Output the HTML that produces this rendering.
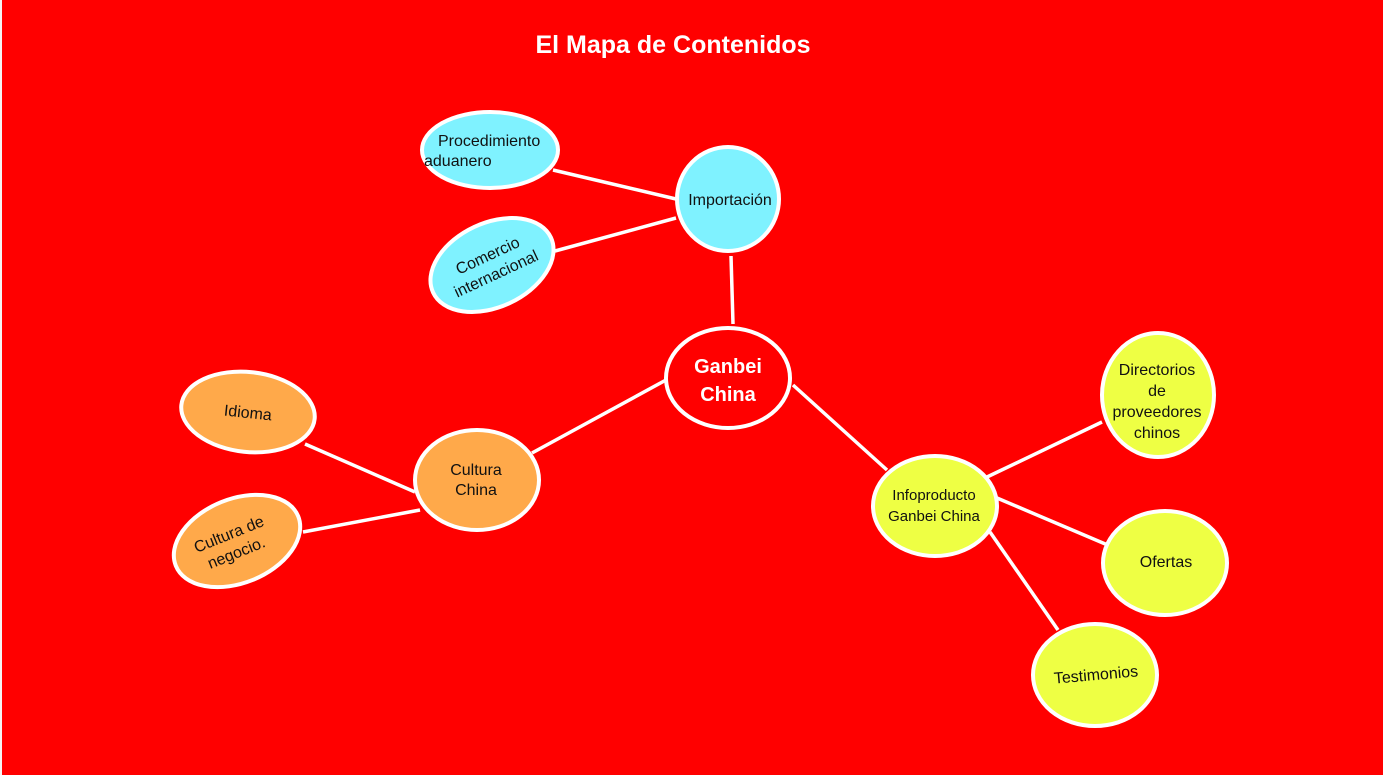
<!DOCTYPE html>
<html><head><meta charset="utf-8"><style>
html,body{margin:0;padding:0;background:#FF0000;}
svg{display:block;}
text{font-family:"Liberation Sans",sans-serif;}
</style></head><body>
<svg width="1383" height="775" viewBox="0 0 1383 775">
<rect x="0" y="0" width="1383" height="775" fill="#FF0000"/>
<rect x="0" y="0" width="2" height="775" fill="#f4f4f4"/>
<text x="673" y="53" text-anchor="middle" font-size="25" font-weight="bold" fill="#fff">El Mapa de Contenidos</text>
<g stroke="#fff" stroke-width="3.5" fill="none">
<line x1="553" y1="170" x2="676" y2="199"/>
<line x1="555" y1="251" x2="676" y2="218"/>
<line x1="731" y1="256" x2="733" y2="324"/>
<line x1="666" y1="380" x2="532" y2="453"/>
<line x1="305" y1="444" x2="415" y2="492"/>
<line x1="303" y1="532" x2="420" y2="510"/>
<line x1="793" y1="385" x2="887" y2="470"/>
<line x1="987" y1="477" x2="1102" y2="422"/>
<line x1="997" y1="498" x2="1110" y2="546"/>
<line x1="990" y1="532" x2="1058" y2="630"/>
</g>
<g stroke="#fff" stroke-width="4">
<ellipse cx="728" cy="378" rx="62" ry="50" fill="#FF0000"/>
<ellipse cx="728" cy="199" rx="51" ry="52" fill="#7FF2FF"/>
<ellipse cx="490" cy="150" rx="68" ry="38" fill="#7FF2FF"/>
<ellipse cx="492" cy="265" rx="65" ry="42" fill="#7FF2FF" transform="rotate(-25 492 265)"/>
<ellipse cx="477" cy="480" rx="62" ry="50" fill="#FFA94A"/>
<ellipse cx="248" cy="412" rx="67" ry="40" fill="#FFA94A" transform="rotate(6 248 412)"/>
<ellipse cx="237" cy="541" rx="66" ry="42" fill="#FFA94A" transform="rotate(-22 237 541)"/>
<ellipse cx="935" cy="506" rx="62" ry="50" fill="#EEFF44"/>
<ellipse cx="1158" cy="395" rx="56" ry="62" fill="#EEFF44"/>
<ellipse cx="1165" cy="563" rx="62" ry="52" fill="#EEFF44"/>
<ellipse cx="1095" cy="675" rx="62" ry="51" fill="#EEFF44"/>
</g>
<text x="728" y="373" text-anchor="middle" font-size="20" font-weight="bold" fill="#fff">Ganbei</text>
<text x="728" y="401" text-anchor="middle" font-size="20" font-weight="bold" fill="#fff">China</text>
<g font-size="16" fill="#111">
<text x="730" y="205" text-anchor="middle">Importación</text>
<text x="438" y="146">Procedimiento</text>
<text x="424" y="166">aduanero</text>
<g transform="rotate(-25 492 265)"><text x="492" y="260" text-anchor="middle">Comercio</text><text x="492" y="280" text-anchor="middle">internacional</text></g>
<text x="476" y="475" text-anchor="middle">Cultura</text>
<text x="476" y="495" text-anchor="middle">China</text>
<text x="248" y="418" text-anchor="middle" transform="rotate(6 248 412)">Idioma</text>
<g transform="rotate(-22 237 541)"><text x="232" y="537" text-anchor="middle">Cultura de</text><text x="232" y="557" text-anchor="middle">negocio.</text></g>
<text x="934" y="500" text-anchor="middle" font-size="15">Infoproducto</text>
<text x="934" y="521" text-anchor="middle" font-size="15">Ganbei China</text>
<text x="1157" y="375" text-anchor="middle">Directorios</text>
<text x="1157" y="396" text-anchor="middle">de</text>
<text x="1157" y="417" text-anchor="middle">proveedores</text>
<text x="1157" y="438" text-anchor="middle">chinos</text>
<text x="1166" y="567" text-anchor="middle">Ofertas</text>
<text x="1096" y="680" text-anchor="middle" transform="rotate(-5 1096 675)">Testimonios</text>
</g>
</svg>
</body></html>
